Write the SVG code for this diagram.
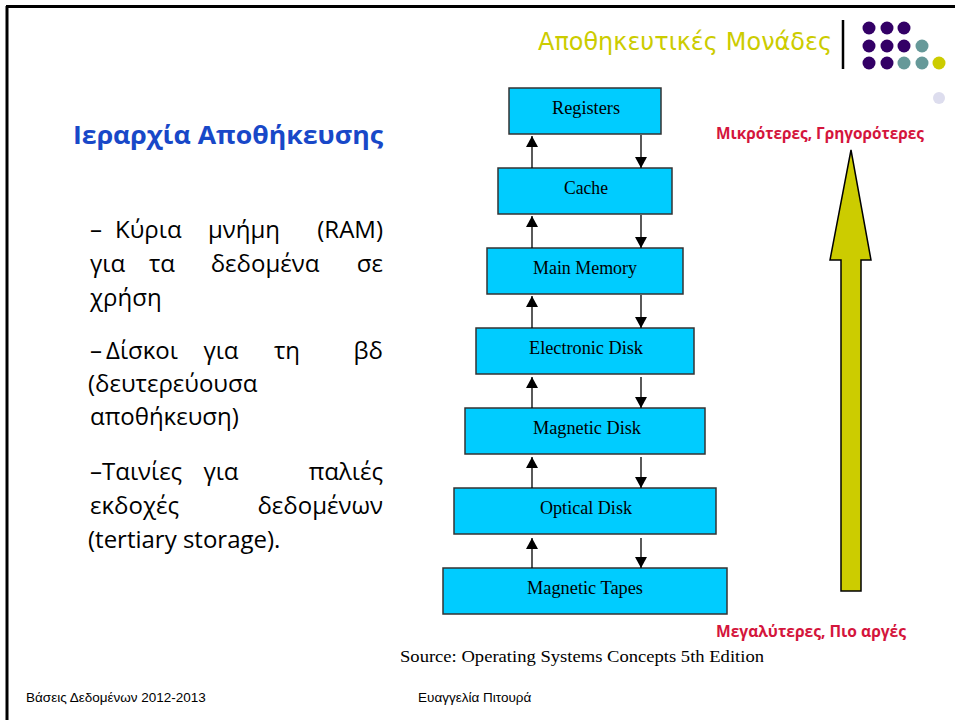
<svg xmlns="http://www.w3.org/2000/svg" width="955" height="720" viewBox="0 0 955 720">
<defs>
<style>
.box{fill:#00CCFF;stroke:#333;stroke-width:1.5}
.bl{font-family:"Liberation Serif","Times New Roman",serif;font-size:19px;fill:#000;text-anchor:middle}
.body{font-family:"Open Sans","Noto Sans",sans-serif;font-size:24px;fill:#000}
.red{font-family:"Open Sans","Noto Sans",sans-serif;font-size:16px;font-weight:bold;fill:#D4153C}
.foot{font-family:"Liberation Sans",Arial,sans-serif;font-size:13.5px;fill:#000}
.conn{stroke:#000;stroke-width:1.3;fill:none}
</style>
<marker id="ah" markerWidth="12" markerHeight="12" refX="11" refY="6" orient="auto" markerUnits="userSpaceOnUse">
<path d="M0,0 L11,6 L0,12 Z" fill="#000"/>
</marker>
</defs>
<rect width="955" height="720" fill="#fff"/>
<g id="frame">
<path d="M6,6.5 H955" stroke="#000" stroke-width="3"/>
<path d="M7,6 V720" stroke="#000" stroke-width="3"/>
</g>
<g id="header">
<text x="538" y="50" font-family="'Comic Neue','DejaVu Sans',sans-serif" font-size="25" fill="#CCCC00" textLength="294" lengthAdjust="spacingAndGlyphs">Αποθηκευτικές Μονάδες</text>
<path d="M843,20 V69" stroke="#000" stroke-width="2.5"/>
<g id="dots">
<circle cx="869" cy="28" r="6.5" fill="#330066"/>
<circle cx="887" cy="28" r="6.5" fill="#330066"/>
<circle cx="904" cy="28" r="6.5" fill="#330066"/>
<circle cx="869" cy="46" r="6.5" fill="#330066"/>
<circle cx="887" cy="46" r="6.5" fill="#330066"/>
<circle cx="904" cy="46" r="6.5" fill="#330066"/>
<circle cx="922" cy="46" r="6.5" fill="#669999"/>
<circle cx="869" cy="63" r="6.5" fill="#330066"/>
<circle cx="887" cy="63" r="6.5" fill="#330066"/>
<circle cx="904" cy="63" r="6.5" fill="#669999"/>
<circle cx="922" cy="63" r="6.5" fill="#669999"/>
<circle cx="939" cy="63" r="6.5" fill="#CCCC00"/>
<circle cx="939" cy="98" r="6" fill="#DDDDEE"/>
</g>
</g>
<g id="title">
<text x="73" y="144" font-family="'Open Sans','Noto Sans',sans-serif" font-size="25.5" font-weight="bold" fill="#1848C8" textLength="310" lengthAdjust="spacingAndGlyphs">Ιεραρχία Αποθήκευσης</text>
</g>
<g id="bullets" class="body">
<text y="238"><tspan x="90">–</tspan><tspan x="115">Κύρια</tspan><tspan x="244" text-anchor="middle">μνήμη</tspan><tspan x="383" text-anchor="end">(RAM)</tspan></text>
<text y="272"><tspan x="90">για</tspan><tspan x="162" text-anchor="middle">τα</tspan><tspan x="265" text-anchor="middle">δεδομένα</tspan><tspan x="383" text-anchor="end">σε</tspan></text>
<text x="90" y="306">χρήση</text>
<text y="359"><tspan x="90">–</tspan><tspan x="106">Δίσκοι</tspan><tspan x="221" text-anchor="middle">για</tspan><tspan x="287" text-anchor="middle">τη</tspan><tspan x="383" text-anchor="end">βδ</tspan></text>
<text x="88" y="392">(δευτερεύουσα</text>
<text x="90" y="425">αποθήκευση)</text>
<text y="480"><tspan x="90">–Ταινίες</tspan><tspan x="221" text-anchor="middle">για</tspan><tspan x="383" text-anchor="end">παλιές</tspan></text>
<text y="514"><tspan x="90">εκδοχές</tspan><tspan x="383" text-anchor="end">δεδομένων</tspan></text>
<text x="88" y="548">(tertiary storage).</text>
</g>
<g id="n-registers"><rect class="box" x="509" y="88" width="152" height="46"/><text class="bl" x="586" y="114" textLength="68" lengthAdjust="spacingAndGlyphs">Registers</text></g>
<g id="n-cache"><rect class="box" x="498" y="168" width="174" height="46"/><text class="bl" x="586" y="194" textLength="44" lengthAdjust="spacingAndGlyphs">Cache</text></g>
<g id="n-main"><rect class="box" x="487" y="248" width="196" height="46"/><text class="bl" x="585" y="274" textLength="104" lengthAdjust="spacingAndGlyphs">Main Memory</text></g>
<g id="n-electronic"><rect class="box" x="476" y="328" width="218" height="46"/><text class="bl" x="586" y="354" textLength="114" lengthAdjust="spacingAndGlyphs">Electronic Disk</text></g>
<g id="n-magdisk"><rect class="box" x="465" y="408" width="240" height="46"/><text class="bl" x="587" y="434" textLength="108" lengthAdjust="spacingAndGlyphs">Magnetic Disk</text></g>
<g id="n-optical"><rect class="box" x="454" y="488" width="262" height="46"/><text class="bl" x="586" y="514" textLength="92" lengthAdjust="spacingAndGlyphs">Optical Disk</text></g>
<g id="n-tapes"><rect class="box" x="443" y="568" width="284" height="46"/><text class="bl" x="585" y="594" textLength="116" lengthAdjust="spacingAndGlyphs">Magnetic Tapes</text></g>
<g id="connectors" class="conn">
<path d="M532,168 V136" marker-end="url(#ah)"/>
<path d="M641,135 V168" marker-end="url(#ah)"/>
<path d="M532,248 V216" marker-end="url(#ah)"/>
<path d="M641,215 V248" marker-end="url(#ah)"/>
<path d="M532,328 V296" marker-end="url(#ah)"/>
<path d="M641,295 V328" marker-end="url(#ah)"/>
<path d="M532,408 V377" marker-end="url(#ah)"/>
<path d="M641,377 V408" marker-end="url(#ah)"/>
<path d="M532,488 V457" marker-end="url(#ah)"/>
<path d="M641,457 V488" marker-end="url(#ah)"/>
<path d="M532,568 V538" marker-end="url(#ah)"/>
<path d="M641,538 V568" marker-end="url(#ah)"/>
</g>
<g id="big-arrow">
<path d="M851,150 L871,260 L861,260 L861,591 L841,591 L841,260 L830,260 Z" fill="#CCCC00" stroke="#000" stroke-width="1.5" stroke-linejoin="miter"/>
</g>
<g id="labels">
<text class="red" x="716" y="139" textLength="208" lengthAdjust="spacingAndGlyphs">Μικρότερες, Γρηγορότερες</text>
<text class="red" x="716" y="637" textLength="190" lengthAdjust="spacingAndGlyphs">Μεγαλύτερες, Πιο αργές</text>
<text x="400" y="662" font-family="'Liberation Serif','Times New Roman',serif" font-size="17" fill="#000" textLength="364" lengthAdjust="spacingAndGlyphs">Source: Operating Systems Concepts 5th Edition</text>
</g>
<g id="footer">
<text class="foot" x="26" y="702">Βάσεις Δεδομένων 2012-2013</text>
<text class="foot" x="418" y="702">Ευαγγελία Πιτουρά</text>
</g>
</svg>
